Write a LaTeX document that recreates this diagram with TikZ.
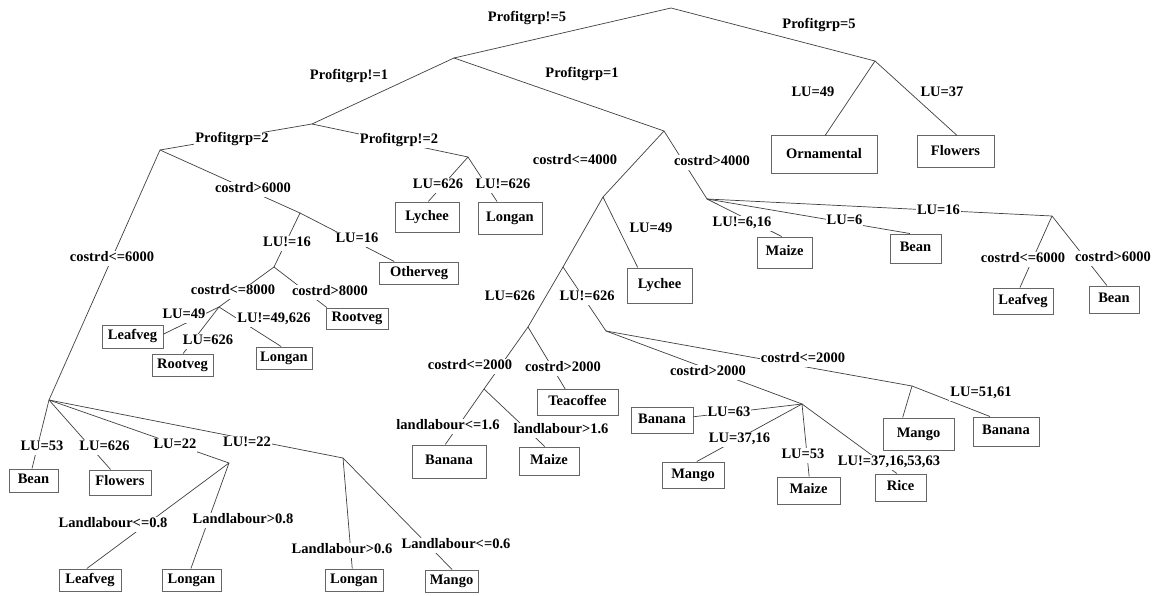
\documentclass[tikz,border=0pt]{standalone}
\usepackage{fontspec}
\setmainfont{Liberation Serif}
\usetikzlibrary{calc}
\begin{document}
\begin{tikzpicture}[x=1pt,y=-1pt,
  edge/.style={draw=black!75, line width=0.7pt},
  lab/.style={fill=white, inner sep=1pt, font=\fontsize{14.5}{17}\selectfont\bfseries, text height=9.6pt, text depth=3pt, yshift=-1.5pt},
  leaf/.style={draw=black!60, line width=1pt, fill=white, inner sep=0pt, font=\fontsize{14.5}{17}\selectfont\bfseries, text height=9.6pt, text depth=3pt}
]
\useasboundingbox[fill=white] (0,0) rectangle (1153,596);

% junctions
\coordinate (root) at (671,8);
\coordinate (n1) at (454,58);
\coordinate (n2) at (875,61);
\coordinate (n3) at (312,124);
\coordinate (n4) at (664,131);
\coordinate (n5) at (160,150);
\coordinate (n6) at (468,157);
\coordinate (n7) at (49,400);
\coordinate (n8) at (300,213);
\coordinate (n9) at (274,267);
\coordinate (n10) at (219,307);
\coordinate (n11) at (603,197);
\coordinate (n12) at (707,199);
\coordinate (n13) at (563,267);
\coordinate (n14) at (528,327);
\coordinate (n15) at (606,331);
\coordinate (n16) at (484,389);
\coordinate (n17) at (912,386);
\coordinate (n18) at (802,404);
\coordinate (n19) at (1052,216);
\coordinate (n20) at (229,463);
\coordinate (n21) at (343,458);

% leaf boxes
\node[leaf, minimum width=106pt, minimum height=38pt] (orn) at (824,155) {Ornamental};
\node[leaf, minimum width=77pt, minimum height=32pt] (flA) at (955.5,152) {Flowers};
\node[leaf, minimum width=64pt, minimum height=30pt] (lyA) at (427,217) {Lychee};
\node[leaf, minimum width=64pt, minimum height=32pt] (loA) at (510,218) {Longan};
\node[leaf, minimum width=79pt, minimum height=22pt] (oth) at (419,273) {Otherveg};
\node[leaf, minimum width=62pt, minimum height=21pt] (roA) at (357,318.5) {Rootveg};
\node[leaf, minimum width=61pt, minimum height=23pt] (leA) at (132.5,336.5) {Leafveg};
\node[leaf, minimum width=61pt, minimum height=22pt] (roB) at (182.5,365) {Rootveg};
\node[leaf, minimum width=56pt, minimum height=22pt] (loB) at (284,358) {Longan};
\node[leaf, minimum width=65pt, minimum height=35pt] (lyB) at (659.5,285.5) {Lychee};
\node[leaf, minimum width=81pt, minimum height=26pt] (tea) at (577.5,402.5) {Teacoffee};
\node[leaf, minimum width=74pt, minimum height=33pt] (baA) at (449,461.5) {Banana};
\node[leaf, minimum width=60pt, minimum height=28pt] (maA) at (549,461) {Maize};
\node[leaf, minimum width=71pt, minimum height=32pt] (mgA) at (918.5,434) {Mango};
\node[leaf, minimum width=66pt, minimum height=29pt] (baB) at (1006,431.5) {Banana};
\node[leaf, minimum width=62pt, minimum height=26pt] (baC) at (662,420) {Banana};
\node[leaf, minimum width=62pt, minimum height=26pt] (mgB) at (693,475) {Mango};
\node[leaf, minimum width=63pt, minimum height=27pt] (maB) at (808.5,490.5) {Maize};
\node[leaf, minimum width=51pt, minimum height=27pt] (ric) at (900.5,487.5) {Rice};
\node[leaf, minimum width=55pt, minimum height=31pt] (maC) at (784.5,252.5) {Maize};
\node[leaf, minimum width=51pt, minimum height=29pt] (beA) at (915.5,248.5) {Bean};
\node[leaf, minimum width=60pt, minimum height=26pt] (leC) at (1023,301) {Leafveg};
\node[leaf, minimum width=50pt, minimum height=27pt] (beC) at (1114,299.5) {Bean};
\node[leaf, minimum width=49pt, minimum height=23pt] (beD) at (33.5,480.5) {Bean};
\node[leaf, minimum width=62pt, minimum height=25pt] (flB) at (120,482.5) {Flowers};
\node[leaf, minimum width=62pt, minimum height=22pt] (leD) at (90,580) {Leafveg};
\node[leaf, minimum width=59pt, minimum height=22pt] (loD) at (191.5,580) {Longan};
\node[leaf, minimum width=58pt, minimum height=22pt] (loE) at (354,580) {Longan};
\node[leaf, minimum width=53pt, minimum height=22pt] (mgC) at (451.5,581) {Mango};

% connectors
\draw[edge] (root) -- (n1);
\draw[edge] (root) -- (n2);
\draw[edge] (n2) -- ($(orn.north west)!0.51!(orn.north east)$);
\draw[edge] (n2) -- ($(flA.north west)!0.52!(flA.north east)$);
\draw[edge] (n1) -- (n3);
\draw[edge] (n1) -- (n4);
\draw[edge] (n3) -- (n5);
\draw[edge] (n3) -- (n6);
\draw[edge] (n6) -- ($(lyA.north west)!0.52!(lyA.north east)$);
\draw[edge] (n6) -- ($(loA.north west)!0.30!(loA.north east)$);
\draw[edge] (n5) -- (n7);
\draw[edge] (n5) -- (n8);
\draw[edge] (n8) -- (n9);
\draw[edge] (n8) -- ($(oth.north west)!0.19!(oth.north east)$);
\draw[edge] (n9) -- (n10);
\draw[edge] (n9) -- ($(roA.north west)!0.02!(roA.north east)$);
\draw[edge] (n10) -- ($(leA.north east)!0.4!(leA.south east)$);
\draw[edge] (n10) -- ($(roB.north west)!0.51!(roB.north east)$);
\draw[edge] (n10) -- ($(loB.north west)!0.45!(loB.north east)$);
\draw[edge] (n4) -- (n11);
\draw[edge] (n4) -- (n12);
\draw[edge] (n11) -- ($(lyB.north west)!0.17!(lyB.north east)$);
\draw[edge] (n11) -- (n13);
\draw[edge] (n13) -- (n14);
\draw[edge] (n13) -- (n15);
\draw[edge] (n14) -- (n16);
\draw[edge] (n14) -- ($(tea.north west)!0.35!(tea.north east)$);
\draw[edge] (n16) -- ($(baA.north west)!0.45!(baA.north east)$);
\draw[edge] (n16) -- ($(maA.north west)!0.43!(maA.north east)$);
\draw[edge] (n15) -- (n17);
\draw[edge] (n15) -- (n18);
\draw[edge] (n17) -- ($(mgA.north west)!0.28!(mgA.north east)$);
\draw[edge] (n17) -- ($(baB.north west)!0.26!(baB.north east)$);
\draw[edge] (n18) -- ($(baC.north east)!0.38!(baC.south east)$);
\draw[edge] (n18) -- ($(mgB.north west)!0.56!(mgB.north east)$);
\draw[edge] (n18) -- ($(maB.north west)!0.51!(maB.north east)$);
\draw[edge] (n18) -- ($(ric.north west)!0.43!(ric.north east)$);
\draw[edge] (n12) -- ($(maC.north west)!0.45!(maC.north east)$);
\draw[edge] (n12) -- ($(beA.north west)!0.39!(beA.north east)$);
\draw[edge] (n12) -- (n19);
\draw[edge] (n19) -- ($(leC.north west)!0.45!(leC.north east)$);
\draw[edge] (n19) -- ($(beC.north west)!0.36!(beC.north east)$);
\draw[edge] (n7) -- ($(beD.north west)!0.47!(beD.north east)$);
\draw[edge] (n7) -- ($(flB.north west)!0.35!(flB.north east)$);
\draw[edge] (n7) -- (n20);
\draw[edge] (n7) -- (n21);
\draw[edge] (n20) -- ($(leD.north west)!0.45!(leD.north east)$);
\draw[edge] (n20) -- ($(loD.north west)!0.49!(loD.north east)$);
\draw[edge] (n21) -- ($(loE.north west)!0.47!(loE.north east)$);
\draw[edge] (n21) -- ($(mgC.north west)!0.51!(mgC.north east)$);

% labels
\node[lab] (l1) at (527,17) {Profitgrp!=5};
\node[lab] (l2) at (819,24) {Profitgrp=5};
\node[lab] (l3) at (813,92) {LU=49};
\node[lab] (l4) at (942,92) {LU=37};
\node[lab] (l5) at (349,75) {Profitgrp!=1};
\node[lab] (l6) at (582,73) {Profitgrp=1};
\node[lab] (l7) at (232,138) {Profitgrp=2};
\node[lab] (l8) at (399,139) {Profitgrp!=2};
\node[lab] (l9) at (438,184) {LU=626};
\node[lab] (l10) at (503,184) {LU!=626};
\node[lab] (l11) at (112,257) {costrd<=6000};
\node[lab] (l12) at (253,188) {costrd>6000};
\node[lab] (l13) at (287,242) {LU!=16};
\node[lab] (l14) at (357,238) {LU=16};
\node[lab] (l15) at (233,290) {costrd<=8000};
\node[lab] (l16) at (330,291) {costrd>8000};
\node[lab] (l17) at (184,314) {LU=49};
\node[lab] (l18) at (208,340) {LU=626};
\node[lab] (l19) at (274,318) {LU!=49,626};
\node[lab] (l20) at (575,160) {costrd<=4000};
\node[lab] (l21) at (712,161) {costrd>4000};
\node[lab] (l22) at (651,228) {LU=49};
\node[lab] (l23) at (510,296) {LU=626};
\node[lab] (l24) at (587,296) {LU!=626};
\node[lab] (l25) at (470,365) {costrd<=2000};
\node[lab] (l26) at (563,367) {costrd>2000};
\node[lab] (l27) at (448,425) {landlabour<=1.6};
\node[lab] (l28) at (561,429) {landlabour>1.6};
\node[lab] (l29) at (803,358) {costrd<=2000};
\node[lab] (l30) at (708,371) {costrd>2000};
\node[lab] (l31) at (981,392) {LU=51,61};
\node[lab] (l32) at (729,412) {LU=63};
\node[lab] (l33) at (739.5,438) {LU=37,16};
\node[lab] (l34) at (803,454) {LU=53};
\node[lab] (l35) at (889,461) {LU!=37,16,53,63};
\node[lab] (l36) at (742,222) {LU!=6,16};
\node[lab] (l37) at (844.5,220) {LU=6};
\node[lab] (l38) at (938.5,210) {LU=16};
\node[lab] (l39) at (1023,258) {costrd<=6000};
\node[lab] (l40) at (1113,257) {costrd>6000};
\node[lab] (l41) at (42,446) {LU=53};
\node[lab] (l42) at (104.5,446) {LU=626};
\node[lab] (l43) at (175,444) {LU=22};
\node[lab] (l44) at (247,442) {LU!=22};
\node[lab] (l45) at (113,523) {Landlabour<=0.8};
\node[lab] (l46) at (243,519) {Landlabour>0.8};
\node[lab] (l47) at (342,549) {Landlabour>0.6};
\node[lab] (l48) at (456,544) {Landlabour<=0.6};
\end{tikzpicture}
\end{document}
